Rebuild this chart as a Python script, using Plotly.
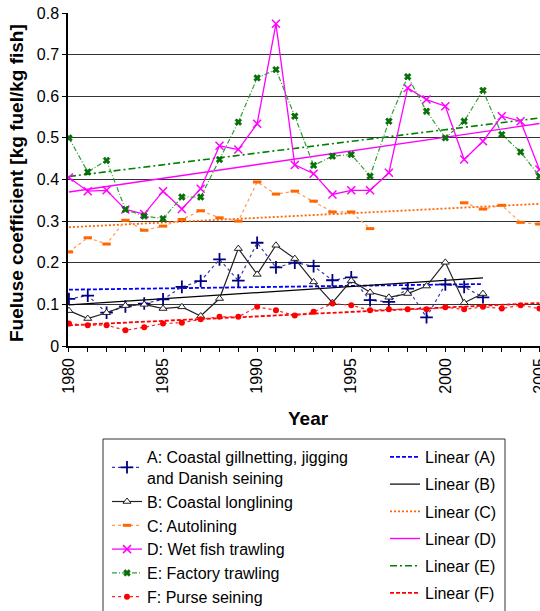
import numpy as np
import plotly.graph_objects as go

years = list(range(1980, 2006))

# A: Coastal gillnetting, jigging and Danish seining (1980-2002)
a_years = list(range(1980, 2003))
a_vals = [0.113, 0.121, 0.080, 0.095, 0.102, 0.112, 0.142, 0.156, 0.208, 0.157,
          0.248, 0.189, 0.200, 0.192, 0.158, 0.165, 0.110, 0.106, 0.138, 0.069,
          0.148, 0.142, 0.117]
# B: Coastal longlining (1980-2002)
b_years = list(range(1980, 2003))
b_vals = [0.085, 0.066, 0.080, 0.097, 0.100, 0.090, 0.094, 0.072, 0.114, 0.234,
          0.172, 0.242, 0.210, 0.154, 0.104, 0.157, 0.129, 0.117, 0.126, 0.144,
          0.201, 0.104, 0.126]
# C: Autolining (1997-2000 missing)
c_vals = [0.226, 0.260, 0.245, 0.302, 0.278, 0.288, 0.304, 0.325, 0.308, 0.300,
          0.394, 0.365, 0.372, 0.348, 0.322, 0.322, 0.282, None, None, None,
          None, 0.344, 0.329, 0.338, 0.297, 0.293]
# D: Wet fish trawling
d_vals = [0.405, 0.372, 0.374, 0.328, 0.317, 0.372, 0.329, 0.378, 0.481, 0.472,
          0.534, 0.774, 0.435, 0.414, 0.364, 0.374, 0.374, 0.416, 0.620, 0.592,
          0.576, 0.448, 0.492, 0.552, 0.540, 0.424]
# E: Factory trawling
e_vals = [0.500, 0.418, 0.446, 0.328, 0.312, 0.306, 0.358, 0.358, 0.448, 0.538,
          0.644, 0.664, 0.552, 0.434, 0.456, 0.460, 0.408, 0.540, 0.647, 0.564,
          0.500, 0.540, 0.614, 0.508, 0.466, 0.408]
# F: Purse seining
f_vals = [0.054, 0.050, 0.050, 0.038, 0.045, 0.054, 0.056, 0.064, 0.070, 0.070,
          0.094, 0.086, 0.073, 0.082, 0.102, 0.098, 0.086, 0.088, 0.088, 0.088,
          0.093, 0.088, 0.094, 0.090, 0.098, 0.090]

tick_labels = [str(y) if y % 5 == 0 else "" for y in years]

FONT = "Liberation Sans, Arial, sans-serif"


def trend(xs, ys):
    pts = [(x, y) for x, y in zip(xs, ys) if y is not None]
    px = np.array([p[0] for p in pts], dtype=float)
    py = np.array([p[1] for p in pts], dtype=float)
    k, m = np.polyfit(px, py, 1)
    xx = [min(px), max(px)]
    return xx, [k * v + m for v in xx]


fig = go.Figure()

series = [
    ("A", "A: Coastal gillnetting, jigging<br>and Danish seining", a_years, a_vals,
     dict(color="#3a3aa8", width=1.2, dash="dot"),
     dict(symbol="cross-thin", size=9, color="#000080", line=dict(width=1.8, color="#000080"))),
    ("B", "B: Coastal longlining", b_years, b_vals,
     dict(color="#222222", width=1.2),
     dict(symbol="triangle-up", size=7, color="white", line=dict(width=1, color="#222222"))),
    ("C", "C: Autolining", years, c_vals,
     dict(color="#ff9955", width=1.2, dash="dot"),
     dict(symbol="line-ew", size=6, color="#ff6600", line=dict(width=3, color="#ff6600"))),
    ("D", "D: Wet fish trawling", years, d_vals,
     dict(color="#ff00ff", width=1.3),
     dict(symbol="x-thin", size=8, color="#ff00ff", line=dict(width=1.5, color="#ff00ff"))),
    ("E", "E: Factory trawling", years, e_vals,
     dict(color="#33a033", width=1.2, dash="5px,2px,1px,2px"),
     dict(symbol="x", size=6, color="#007700", line=dict(width=0.5, color="#004400"))),
    ("F", "F: Purse seining", years, f_vals,
     dict(color="#ff2222", width=1.2, dash="dot"),
     dict(symbol="circle", size=6, color="#ff0000")),
]

trend_styles = {
    "A": dict(color="#0000ff", width=1.8, dash="4px,2px"),
    "B": dict(color="#000000", width=1.2),
    "C": dict(color="#ff6600", width=1.8, dash="2px,2px"),
    "D": dict(color="#ff00ff", width=1.4),
    "E": dict(color="#008000", width=1.6, dash="7px,3px,2px,3px"),
    "F": dict(color="#ff0000", width=1.8, dash="4px,2px"),
}

for key, name, xs, ys, ln, mk, in series:
    tx, ty = trend(xs, ys)
    fig.add_trace(go.Scatter(x=tx, y=ty, mode="lines", name=f"Linear ({key})",
                             line=trend_styles[key], legend="legend2",
                             legendgroup="t" + key, hoverinfo="skip"))

for key, name, xs, ys, ln, mk, in series:
    fig.add_trace(go.Scatter(x=xs, y=ys, mode="lines+markers", name=name,
                             line=ln, marker=mk, legend="legend",
                             connectgaps=False))

W, H = 540, 611
L, R, T = 68, 0, 13
ph = 333
B = H - T - ph
pw = W - L - R


def px2x(p):
    return (p - L) / pw


def py2y(p):
    return (T + ph - p) / ph


fig.update_layout(
    width=W, height=H,
    margin=dict(l=L, r=R, t=T, b=B, autoexpand=False),
    paper_bgcolor="white", plot_bgcolor="white",
    font=dict(family=FONT, size=16, color="black"),
    showlegend=True,
    legend=dict(x=px2x(107), y=py2y(440), xanchor="left", yanchor="top",
                bgcolor="rgba(0,0,0,0)", borderwidth=0,
                font=dict(size=16, family=FONT), traceorder="normal"),
    legend2=dict(x=px2x(385), y=py2y(440), xanchor="left", yanchor="top",
                 bgcolor="rgba(0,0,0,0)", borderwidth=0,
                 font=dict(size=16, family=FONT), traceorder="grouped",
                 tracegroupgap=3.4),
    xaxis=dict(range=[1979.95, 2005.03], tickmode="array", tickvals=years,
               ticktext=tick_labels, tickangle=-90, ticks="outside", ticklen=4,
               tickcolor="black", showline=True, linecolor="black", linewidth=1.5,
               showgrid=False, zeroline=False, automargin=False,
               ticklabeloverflow="allow",
               tickfont=dict(size=16, family=FONT)),
    yaxis=dict(range=[0, 0.8], dtick=0.1, tick0=0, ticks="outside", ticklen=4,
               tickcolor="black", showline=True, linecolor="black", linewidth=1.5,
               showgrid=True, gridcolor="#333333", gridwidth=1, zeroline=False,
               automargin=False, tickfont=dict(size=16, family=FONT)),
    annotations=[
        dict(text="<b>Year</b>", x=px2x(308), y=py2y(418), xref="paper", yref="paper",
             showarrow=False, xanchor="center", yanchor="middle",
             font=dict(size=19, family=FONT)),
        dict(text="<b>Fueluse coefficient [kg fuel/kg fish]</b>", x=px2x(16), y=py2y(183),
             xref="paper", yref="paper", showarrow=False, textangle=-90,
             xanchor="center", yanchor="middle", font=dict(size=19, family=FONT)),
    ],
    shapes=[
        dict(type="rect", xref="paper", yref="paper", x0=px2x(103), x1=px2x(505),
             y0=py2y(625), y1=py2y(439), line=dict(color="#333333", width=1),
             fillcolor="rgba(0,0,0,0)", layer="above"),
    ],
)

fig.write_html("out.html", config={"displayModeBar": False},
               post_script="document.body.style.margin='0';document.body.style.overflow='hidden';")
